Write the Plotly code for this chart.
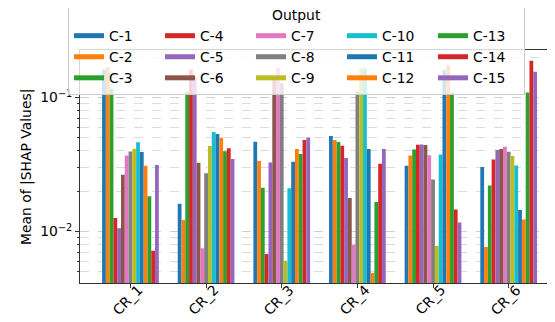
import plotly.graph_objects as go

categories = ["CR_1", "CR_2", "CR_3", "CR_4", "CR_5", "CR_6"]
series_names = [f"C-{i}" for i in range(1, 16)]

# values per series across CR_1..CR_6
C1 = [0.161, 0.0161, 0.0468, 0.0516, 0.0310, 0.0303]
C2 = [0.168, 0.0122, 0.0336, 0.0482, 0.0370, 0.00766]
C3 = [0.116, 0.110, 0.0212, 0.0466, 0.0410, 0.0221]
C4 = [0.0126, 0.161, 0.0068, 0.0437, 0.0445, 0.0345]
C5 = [0.0106, 0.143, 0.0328, 0.0354, 0.0447, 0.0406]
C6 = [0.0265, 0.0326, 0.140, 0.0178, 0.0443, 0.0413]
C7 = [0.0370, 0.0075, 0.166, 0.00798, 0.0371, 0.0430]
C8 = [0.0396, 0.0272, 0.128, 0.111, 0.0244, 0.0394]
C9 = [0.0415, 0.0435, 0.00606, 0.166, 0.0078, 0.0366]
C10 = [0.0463, 0.0553, 0.0210, 0.165, 0.0375, 0.0311]
C11 = [0.0392, 0.0534, 0.0332, 0.0413, 0.160, 0.0145]
C12 = [0.0310, 0.0501, 0.0413, 0.0049, 0.175, 0.0123]
C13 = [0.0183, 0.0397, 0.0379, 0.0166, 0.108, 0.109]
C14 = [0.0072, 0.0418, 0.0482, 0.0321, 0.0146, 0.188]
C15 = [0.0313, 0.0348, 0.0504, 0.0413, 0.0117, 0.156]
series_values = [C1, C2, C3, C4, C5, C6, C7, C8, C9, C10, C11, C12, C13, C14, C15]

colors = ["#1f77b4", "#ff7f0e", "#2ca02c", "#d62728", "#9467bd", "#8c564b",
          "#e377c2", "#7f7f7f", "#bcbd22", "#17becf", "#1f77b4", "#ff7f0e",
          "#2ca02c", "#d62728", "#9467bd"]

ytick_vals = [0.01, 0.1]
ytick_text = ["10<sup>−2</sup>", "10<sup>−1</sup>"]
minor_vals = [k * 10.0 ** e for e in (-3, -2, -1) for k in range(2, 10)]
y_title = "Mean of |SHAP Values|"

FONT = "DejaVu Sans"
FS = 13.9

fig = go.Figure()
for name, vals, col in zip(series_names, series_values, colors):
    fig.add_trace(go.Bar(x=categories, y=vals, name=name, marker=dict(color=col, line=dict(width=0)),
                         showlegend=False))

# legend entries (column-major order like the original)
ncol, nrow = 5, 3
for i, (name, col) in enumerate(zip(series_names, colors)):
    r, c = i % nrow, i // nrow
    fig.add_trace(go.Scatter(x=[None], y=[None], mode="lines", name=name,
                             line=dict(color=col, width=9), legendrank=r * ncol + c + 1,
                             showlegend=True))

# rotated category labels (centered under each tick like the original)
for cat in categories:
    fig.add_annotation(x=cat, xref="x", y=0, yref="paper", yanchor="middle", xanchor="center",
                       yshift=-17, xshift=-3, text=cat, textangle=-45, showarrow=False,
                       font=dict(size=FS, family=FONT, color="black"))

# y-axis title
fig.add_annotation(x=-0.1015, xref="paper", y=0.5, yref="paper", xanchor="center",
                   yanchor="middle", xshift=-5, text=y_title, textangle=-90, showarrow=False,
                   font=dict(size=FS, family=FONT, color="black"))

fig.update_layout(
    width=555, height=322,
    margin=dict(l=72, r=5, t=42, b=47, autoexpand=False),
    paper_bgcolor="white", plot_bgcolor="white",
    barmode="group", bargap=0.25, bargroupgap=0,
    font=dict(family=FONT, size=FS, color="black"),
    legend=dict(
        orientation="h", x=0.931, xanchor="right", y=1.21, yanchor="top",
        bgcolor="rgba(255,255,255,0.8)", bordercolor="#cccccc", borderwidth=1,
        title=dict(text="Output", side="top center", font=dict(size=FS)),
        font=dict(size=FS), entrywidth=46, entrywidthmode="pixels",
        traceorder="normal", itemsizing="constant",
    ),
    xaxis=dict(
        range=[-0.667, 5.652], showline=True, mirror=True, linecolor="#333333", linewidth=1,
        ticks="outside", ticklen=4, tickcolor="#333333", showticklabels=False, showgrid=False,
    ),
    yaxis=dict(
        type="log", range=[-2.384, -0.6455], showline=True, mirror=True,
        linecolor="#333333", linewidth=1, ticks="outside", ticklen=4, tickcolor="#333333",
        tickvals=ytick_vals, ticktext=ytick_text, showgrid=True, gridcolor="#cfcfcf",
        griddash="dash", gridwidth=1, zeroline=False,
        minor=dict(tickvals=minor_vals, ticks="outside", ticklen=2, tickcolor="#333333",
                   showgrid=True, gridcolor="#dcdcdc", griddash="dash", gridwidth=1),
    ),
)

fig.write_html("out.html")
